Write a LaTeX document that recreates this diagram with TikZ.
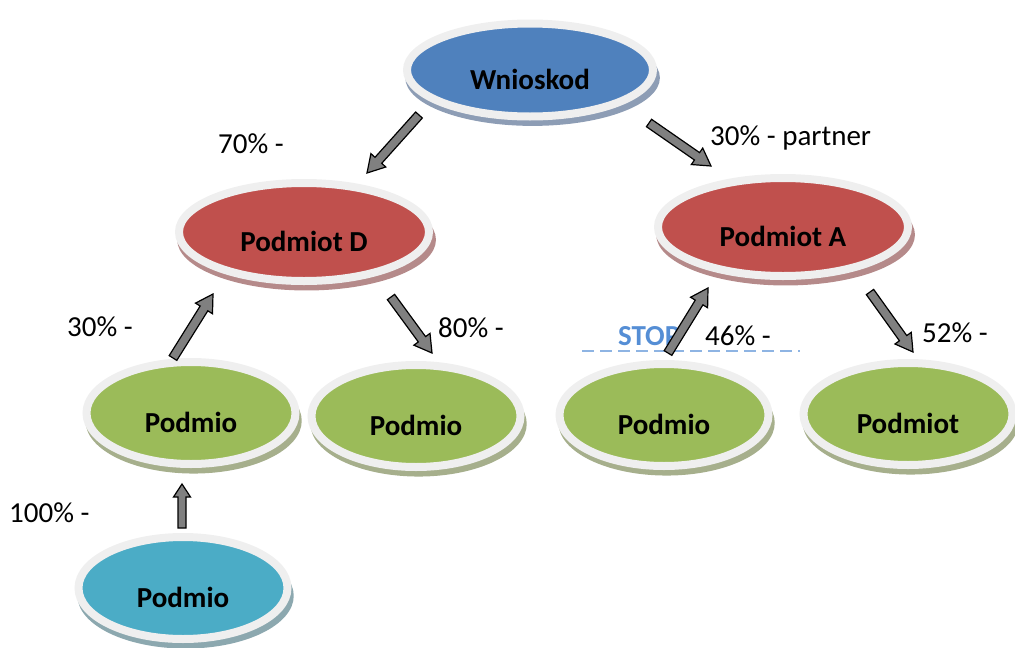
\documentclass[tikz,border=0pt]{standalone}
\usepackage{fontspec}
\setmainfont{Carlito}
\usetikzlibrary{shapes.geometric,shadows,calc}
\definecolor{cblue}{HTML}{4F81BD}
\definecolor{cred}{HTML}{C0504D}
\definecolor{cgreen}{HTML}{9BBB59}
\definecolor{cteal}{HTML}{4BACC6}
\definecolor{sblue}{HTML}{8D9DB5}
\definecolor{sred}{HTML}{B58A8A}
\definecolor{sgreen}{HTML}{A6AF8C}
\definecolor{steal}{HTML}{8CA8AF}
\definecolor{ring}{HTML}{EFEFEF}
\definecolor{agray}{HTML}{808080}
\definecolor{stopblue}{HTML}{558ED5}
\definecolor{dashblue}{HTML}{8EB4E3}
\tikzset{
 ent/.style={ellipse, draw=ring, line width=8pt, inner sep=0pt, text height=38pt, text depth=0pt,
   font=\fontsize{29pt}{34pt}\selectfont\bfseries, text=black},
 bigW/.style={minimum width=246pt, minimum height=93pt},
 big/.style={minimum width=250pt, minimum height=98pt},
 small/.style={minimum width=209pt, minimum height=102pt},
 sh/.style={general shadow={fill=#1, shadow xshift=2.5pt, shadow yshift=-7.5pt, shadow scale=1.035}},
 pct/.style={anchor=base west, inner sep=0pt, font=\fontsize{29pt}{34pt}\selectfont},
 blk/.style={fill=agray, draw=black, line width=1.2pt, line join=miter},
 dashline/.style={draw=dashblue, line width=2pt, dash pattern=on 12pt off 6pt},
}
\newcommand\blockarrow[5]{%
 \draw[blk] let \p1=(#1), \p2=(#2), \n1={atan2(\y2-\y1,\x2-\x1)}, \n2={veclen(\x2-\x1,\y2-\y1)-#5} in
  ($(\p1)+(\n1+90:#3pt)$) -- ($(\p1)+(\n1:\n2)+(\n1+90:#3pt)$) -- ($(\p1)+(\n1:\n2)+(\n1+90:#4pt)$)
  -- (\p2) -- ($(\p1)+(\n1:\n2)+(\n1-90:#4pt)$) -- ($(\p1)+(\n1:\n2)+(\n1-90:#3pt)$)
  -- ($(\p1)+(\n1-90:#3pt)$) -- cycle;}
\begin{document}
\begin{tikzpicture}[x=1pt,y=-1pt]
\useasboundingbox (0,0) rectangle (1015,648);
% entities
\node[ent,bigW,sh=sblue,fill=cblue] (w) at (530,70) {Wnioskod};
\node[ent,big,sh=sred,fill=cred] (d) at (304,232) {Podmiot D};
\node[ent,big,sh=sred,fill=cred] (a) at (783,227) {Podmiot A};
\node[ent,small,sh=sgreen,fill=cgreen] (g1) at (191,413) {Podmio};
\node[ent,small,sh=sgreen,fill=cgreen] (g2) at (416,416) {Podmio};
\node[ent,small,sh=sgreen,fill=cgreen] (g3) at (664,415) {Podmio};
\node[ent,small,sh=sgreen,fill=cgreen] (g4) at (908,414) {Podmiot};
\node[ent,small,sh=steal,fill=cteal] (t) at (183,588) {Podmio};
% labels
\node[pct] (l70) at (218,153) {70\% -};
\node[pct] (l30p) at (710,145) {30\% - partner};
\node[pct] (l30) at (67,336) {30\% -};
\node[pct] (l80) at (438,337) {80\% -};
\node[pct] (l46) at (705,345) {46\% -};
\node[pct] (l52) at (922,342) {52\% -};
\node[pct] (l100) at (9,522) {100\% -};
\node[pct, font=\fontsize{29pt}{34pt}\selectfont\bfseries, text=stopblue] (stop) at (618,345) {STOP};
\coordinate (ds) at (582,351);
\coordinate (de) at (800,351);
\draw[dashline] (ds) -- (de);
% arrow end points
\coordinate (a1s) at (419,115); \coordinate (a1e) at (367,173);
\coordinate (a2s) at (649,123); \coordinate (a2e) at (711,166);
\coordinate (a3s) at (173,358); \coordinate (a3e) at (213,294);
\coordinate (a4s) at (391,297); \coordinate (a4e) at (432,353);
\coordinate (a5s) at (668,353); \coordinate (a5e) at (708,288);
\coordinate (a6s) at (870,292); \coordinate (a6e) at (913,352);
\coordinate (a7s) at (182,528); \coordinate (a7e) at (182,484);
\blockarrow{a1s}{a1e}{4.5}{10}{17}
\blockarrow{a2s}{a2e}{4.5}{10}{17}
\blockarrow{a3s}{a3e}{4.5}{10}{17}
\blockarrow{a4s}{a4e}{4.5}{10}{17}
\blockarrow{a5s}{a5e}{4.5}{10}{17}
\blockarrow{a6s}{a6e}{4.5}{10}{17}
\blockarrow{a7s}{a7e}{4}{8.5}{13}
\end{tikzpicture}
\end{document}
